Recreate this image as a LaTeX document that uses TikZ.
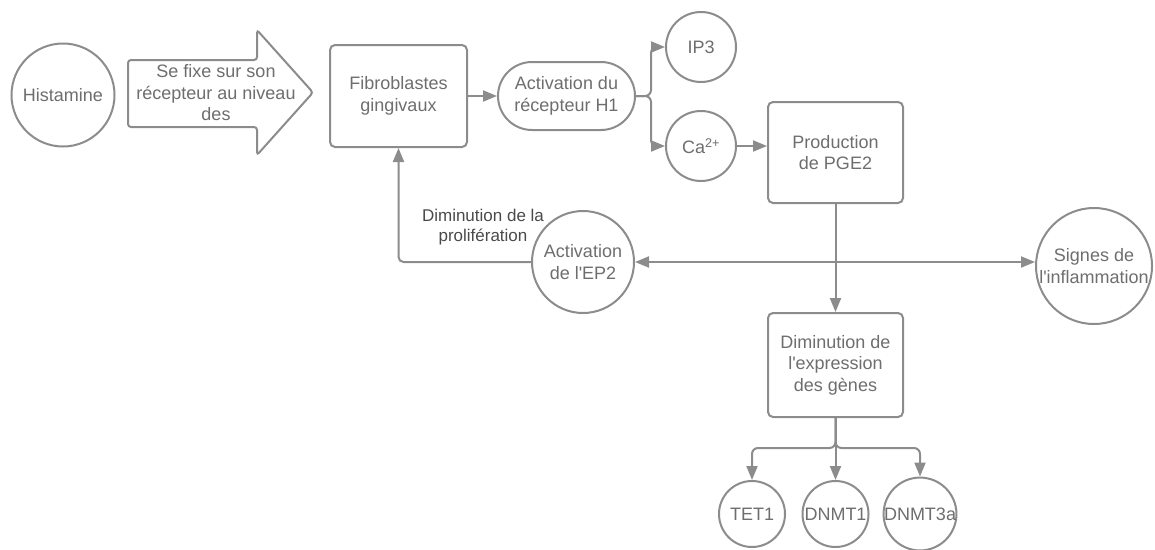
\documentclass[tikz,border=0pt]{standalone}
\usepackage{fontspec}
\setmainfont{Liberation Sans}
\usetikzlibrary{arrows.meta,calc}
\definecolor{lc}{HTML}{8C8C8C}
\definecolor{tc}{HTML}{6E6E6E}
\definecolor{lbl}{HTML}{4A4A4A}
\newcommand{\ap}{\textquotesingle}
\begin{document}
\begin{tikzpicture}[x=1pt,y=-1pt,
  every node/.style={font=\fontsize{18}{21.5}\selectfont, text=tc, align=center, inner sep=0pt},
  boxn/.style={draw=lc, line width=2pt, fill=white, rounded corners=5pt},
  circn/.style={draw=lc, line width=2pt, fill=white, circle},
  pilln/.style={draw=lc, line width=2pt, fill=white, rounded corners=34pt},
  arr/.style={draw=lc, line width=2pt, -{Triangle[length=14pt,width=11pt]}},
  lin/.style={draw=lc, line width=2pt}]
\useasboundingbox (0,0) rectangle (1155,549);
% nodes
\node[circn, minimum size=103pt] (hist) at (63,95) {Histamine};
\draw[lc, line width=2pt, fill=white, rounded corners=3pt]
  (128,60) -- (257,60) -- (257,30) -- (313,92.5) -- (257,155) -- (257,127) -- (128,127) -- cycle;
\node (fixe) at (216,93) {Se fixe sur son\\récepteur au niveau\\des};
\node[boxn, minimum width=137pt, minimum height=102pt] (fib) at (398.5,96) {Fibroblastes\\gingivaux};
\node[pilln, minimum width=137pt, minimum height=68pt] (h1) at (566.5,96) {Activation du\\récepteur H1};
\node[circn, minimum size=70pt] (ip3) at (701,47) {IP3};
\node[circn, minimum size=70pt] (ca) at (701,146) {Ca\textsuperscript{2+}};
\node[boxn, minimum width=135pt, minimum height=101pt] (prod) at (835.5,152.5) {Production\\de PGE2};
\node[circn, minimum size=102pt] (ep2) at (583,262) {Activation\\de l\ap EP2};
\node[circn, minimum size=116pt] (sig) at (1094,266) {Signes de\\l\ap inflammation};
\node[boxn, minimum width=135pt, minimum height=104pt] (dim) at (835.5,365) {Diminution de\\l\ap expression\\des gènes};
\node[circn, minimum size=66pt] (tet) at (752,514) {TET1};
\node[circn, minimum size=66pt] (dn1) at (835.5,514) {DNMT1};
\node[circn, minimum size=66pt] (dn3) at (920,514) {DNMT3a};
\node[text=lbl, font=\fontsize{17}{20}\selectfont] (lab) at (483,227) {Diminution de la\\prolifération};
\coordinate (j) at (prod.south |- ep2.center);
% connectors
\draw[arr] (fib.east) -- (h1.west);
\draw[arr, rounded corners=6pt] (h1.east) -- ++(15,0) |- (ip3.west);
\draw[arr, rounded corners=6pt] (h1.east) -- ++(15,0) |- (ca.west);
\draw[arr] (ca.east) -- (ca.east -| prod.west);
\draw[arr] (prod.south) -- (dim.north);
\draw[arr] (j) -- (ep2.east);
\draw[arr] (j) -- (j -| sig.west);
\draw[arr, rounded corners=5pt] (ep2.west) -| (fib.south);
\draw[arr, rounded corners=6pt] (dim.south) -- ++(0,30) -| (tet.north);
\draw[arr, rounded corners=6pt] (dim.south) -- ++(0,30) -| (dn3.north);
\draw[arr] (dim.south) -- (dn1.north);
\end{tikzpicture}
\end{document}
